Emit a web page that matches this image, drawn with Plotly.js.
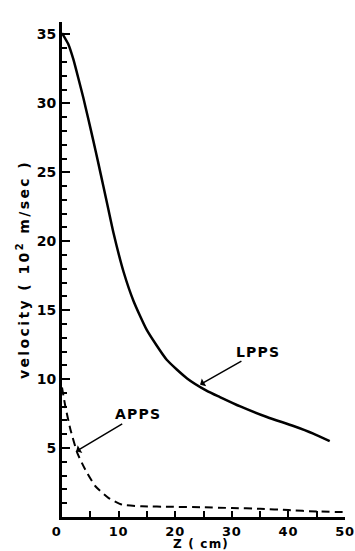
<!DOCTYPE html>
<html>
<head>
<meta charset="utf-8">
<script src="https://cdn.plot.ly/plotly-3.0.1.min.js"></script>
<style>
html,body{margin:0;padding:0;background:#fff;}
#chart{width:355px;height:551px;}
.ytitle{letter-spacing:2.4px;}
.annotation-text{letter-spacing:1.2px;}
.xtick text{letter-spacing:0.8px;}
</style>
</head>
<body>
<div id="chart"></div>
<script>
// LPPS (solid curve): axial distance Z (cm) and velocity (10^2 m/sec)
const lppsZ = [0, 1.1, 2.0, 2.9, 3.8, 4.6, 5.5, 6.4, 7.3, 8.2, 9.1, 10.9, 12.65, 15.0, 18.5, 22.1, 25.6, 27.9, 31.5, 36.2, 40.9, 44.4, 47.3];
const lppsV = [35.1, 34.3, 33.2, 31.8, 30.35, 28.95, 27.35, 25.7, 24.0, 22.3, 20.6, 17.75, 15.65, 13.55, 11.4, 10.05, 9.15, 8.7, 8.02, 7.25, 6.6, 6.05, 5.5];

// APPS (dashed curve)
const appsZ = [0, 0.6, 1.5, 2.7, 4.1, 5.9, 8.2, 10.6, 14.1, 19.4, 24.7, 30, 35, 40, 45, 50];
const appsV = [9.4, 8.0, 6.33, 4.65, 3.44, 2.23, 1.39, 0.9, 0.78, 0.74, 0.71, 0.65, 0.6, 0.5, 0.4, 0.35];

// Axis ticks
const xTickVals = [0, 10, 20, 30, 40, 50];
const xTickText = ["0\u00a0\u00a0", "10", "20", "30", "40", "50"];
const yTickVals = [5, 10, 15, 20, 25, 30, 35];
const yTickText = ["5", "10", "15", "20", "25", "30", "35"];
const xTitle = "Z ( cm)";
const yTitle = "velocity ( 10<sup>2</sup> m/sec )";

// Curve labels: [text, Z, velocity at arrow head]
const labelLPPS = ["LPPS", 24.4, 9.6];
const labelAPPS = ["APPS", 2.5, 4.76];

const font = {family: "DejaVu Sans", size: 14, color: "#000", weight: "bold"};
const xFont = {family: "DejaVu Sans", size: 13, color: "#000", weight: "bold"};

const traces = [
  {x: lppsZ, y: lppsV, mode: "lines", line: {color: "#000", width: 2.5, shape: "spline", smoothing: 0.5}, showlegend: false, hoverinfo: "skip"},
  {x: appsZ, y: appsV, mode: "lines", line: {color: "#000", width: 2, dash: "8px,5px", shape: "spline", smoothing: 0.5}, showlegend: false, hoverinfo: "skip"}
];

const layout = {
  width: 355, height: 551,
  margin: {l: 62, r: 10, t: 22, b: 34, pad: 0},
  paper_bgcolor: "#fff", plot_bgcolor: "#fff",
  font: font,
  xaxis: {
    range: [0, 50], showgrid: false, zeroline: false,
    showline: true, linewidth: 3, linecolor: "#000",
    tickmode: "array", tickvals: xTickVals, ticktext: xTickText,
    ticks: "inside", ticklen: 6, tickwidth: 2, tickcolor: "#000",
    minor: {dtick: 5, tick0: 0, ticks: "inside", ticklen: 6, tickwidth: 2, tickcolor: "#000", showgrid: false},
    tickfont: xFont,
    automargin: false,
    fixedrange: true
  },
  yaxis: {
    range: [0, 35.9], showgrid: false, zeroline: false,
    showline: true, linewidth: 3, linecolor: "#000",
    tickmode: "array", tickvals: yTickVals, ticktext: yTickText,
    ticks: "inside", ticklen: 8, tickwidth: 2, tickcolor: "#000",
    minor: {dtick: 1, tick0: 0, ticks: "inside", ticklen: 5, tickwidth: 2, tickcolor: "#000", showgrid: false},
    tickfont: font,
    title: {text: yTitle, font: font, standoff: 4},
    automargin: false,
    fixedrange: true
  },
  annotations: [
    {xref: "paper", yref: "paper", x: 0.49, y: 0, yshift: -35, xanchor: "center", yanchor: "bottom", text: xTitle, showarrow: false, font: {family: "DejaVu Sans", size: 12, color: "#000", weight: "bold"}, borderpad: 0},
    {x: labelLPPS[1], y: labelLPPS[2], text: labelLPPS[0], showarrow: true, arrowhead: 1, arrowsize: 1, arrowwidth: 1.5, arrowcolor: "#000", ax: 58, ay: -33, font: font},
    {x: labelAPPS[1], y: labelAPPS[2], text: labelAPPS[0], showarrow: true, arrowhead: 1, arrowsize: 1, arrowwidth: 1.5, arrowcolor: "#000", ax: 62, ay: -37, font: font}
  ]
};

Plotly.newPlot("chart", traces, layout, {displayModeBar: false, staticPlot: true});
</script>
</body>
</html>
